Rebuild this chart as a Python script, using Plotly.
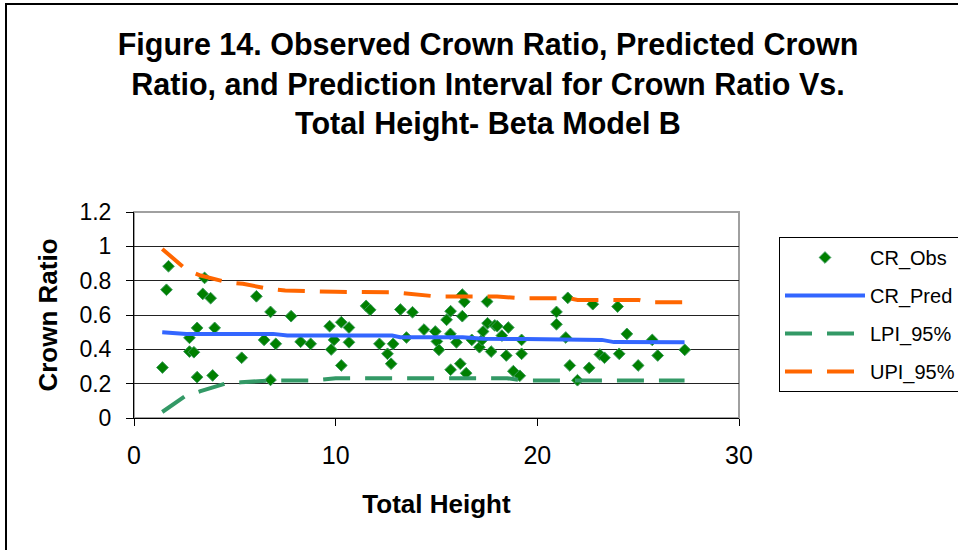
import plotly.graph_objects as go

# ---- data ----
obs_x = [1.71, 1.61, 3.50, 3.41, 3.80, 3.13, 4.00, 2.75, 2.75, 2.97, 1.41, 3.13, 3.90,
         5.34, 6.07, 6.77, 6.45, 7.03, 6.77, 7.79, 8.26, 8.76, 9.70, 9.92, 9.78,
         10.28, 10.66, 10.66, 10.28, 11.51, 11.71, 12.17, 12.57, 12.75, 12.85, 13.21,
         13.81, 13.51, 14.38, 14.94, 15.02, 15.12, 15.70, 15.50, 15.69, 15.99, 15.70,
         16.18, 16.47, 16.28, 16.38, 16.28, 16.75, 17.13, 17.26, 17.31, 17.53, 17.51,
         17.71, 17.89, 18.01, 18.24, 18.56, 18.46, 18.81, 19.13, 19.22, 19.22,
         21.51, 20.95, 20.95, 21.41, 21.61, 21.99, 22.57, 22.75, 23.10, 23.33, 23.98,
         24.06, 24.44, 25.00, 25.70, 25.97, 27.31]
obs_y = [0.884, 0.747, 0.816, 0.723, 0.698, 0.525, 0.525, 0.467, 0.387, 0.383, 0.294, 0.238, 0.248,
         0.351, 0.709, 0.618, 0.455, 0.432, 0.222, 0.593, 0.444, 0.432, 0.535, 0.455, 0.399,
         0.558, 0.527, 0.441, 0.306, 0.653, 0.630, 0.432, 0.374, 0.316, 0.432, 0.632,
         0.616, 0.469, 0.515, 0.504, 0.446, 0.397, 0.622, 0.572, 0.490, 0.441, 0.281,
         0.316, 0.261, 0.719, 0.677, 0.593, 0.455, 0.412, 0.455, 0.504, 0.552, 0.678,
         0.387, 0.539, 0.535, 0.480, 0.527, 0.364, 0.273, 0.246, 0.455, 0.374,
         0.700, 0.618, 0.546, 0.469, 0.306, 0.220, 0.292, 0.663, 0.370, 0.351, 0.649,
         0.374, 0.490, 0.306, 0.455, 0.364, 0.397]

pred_x = [1.4, 1.7, 2.6, 6.9, 7.6, 12.8, 13.2, 16.3, 17.3, 19.4, 23.2, 23.8, 27.3]
pred_y = [0.500, 0.497, 0.490, 0.490, 0.480, 0.480, 0.471, 0.471, 0.462, 0.460, 0.455, 0.442, 0.441]

lpi_x = [1.4, 2.5, 3.3, 4.6, 5.3, 6.7, 8.8, 10.0, 18.5, 19.3, 27.3]
lpi_y = [0.035, 0.125, 0.156, 0.203, 0.208, 0.218, 0.218, 0.232, 0.232, 0.218, 0.218]

upi_x = [1.4, 2.6, 3.3, 4.6, 5.4, 6.7, 7.5, 10.0, 12.9, 13.8, 15.0, 18.0, 19.2, 21.5, 22.0, 25.0, 25.6, 27.3]
upi_y = [0.985, 0.863, 0.830, 0.791, 0.782, 0.752, 0.743, 0.735, 0.733, 0.723, 0.708, 0.708, 0.698, 0.698, 0.688, 0.688, 0.674, 0.674]

x_ticks = [0, 10, 20, 30]
y_ticks = [0, 0.2, 0.4, 0.6, 0.8, 1.0, 1.2]

title_text = ("Figure 14. Observed Crown Ratio, Predicted Crown<br>"
              "Ratio, and Prediction Interval for Crown Ratio Vs.<br>"
              "Total Height- Beta Model B")

FONT = "Liberation Sans, Arial, sans-serif"
W, H = 958, 550
L, R, T, B = 134, 219, 212, 132
PW, PH = W - L - R, H - T - B

def px2paper_x(px):
    return (px - L) / PW

def px2paper_y(py):
    return (H - B - py) / PH

DASH = "27px,15px"

fig = go.Figure()
fig.add_trace(go.Scatter(
    x=obs_x, y=obs_y, mode="markers", name="CR_Obs", legendgroup="a",
    marker=dict(symbol="diamond", size=9, color="#008000",
                line=dict(color="#3A9A5A", width=1)),
))
fig.add_trace(go.Scatter(
    x=pred_x, y=pred_y, mode="lines", name="CR_Pred", legendgroup="b",
    line=dict(color="#3366FF", width=4),
))
fig.add_trace(go.Scatter(
    x=lpi_x, y=lpi_y, mode="lines", name="LPI_95%", legendgroup="c",
    line=dict(color="#339966", width=4, dash=DASH),
))
fig.add_trace(go.Scatter(
    x=upi_x, y=upi_y, mode="lines", name="UPI_95%", legendgroup="d",
    line=dict(color="#FF6600", width=4, dash=DASH),
))

fig.update_layout(
    width=W, height=H,
    margin=dict(l=L, r=R, t=T, b=B, pad=0, autoexpand=False),
    paper_bgcolor="white", plot_bgcolor="white",
    font=dict(family=FONT, color="black"),
    title=dict(text=title_text, x=488 / W, xref="container",
               xanchor="center", y=1 - 55 / H, yref="container", yanchor="middle",
               font=dict(family=FONT, size=30.5, color="black", weight="bold")),
    showlegend=True,
    legend=dict(
        x=px2paper_x(779), y=px2paper_y(237), xanchor="left", yanchor="top",
        bgcolor="white", bordercolor="black", borderwidth=1,
        font=dict(family=FONT, size=20, color="black"),
        tracegroupgap=9, itemwidth=80,
    ),
    xaxis=dict(
        range=[0, 30], tickvals=x_ticks, showgrid=False, zeroline=False,
        showline=True, linecolor="black", linewidth=1,
        ticks="outside", ticklen=7, tickcolor="black", tickwidth=1,
        ticklabelstandoff=8,
        tickfont=dict(family=FONT, size=25, color="black"),
        title=dict(text="<b>Total Height</b>", standoff=26,
                   font=dict(family=FONT, size=26, color="black")),
    ),
    yaxis=dict(
        range=[0, 1.2], tickvals=y_ticks, showgrid=True, gridcolor="#222222", gridwidth=1,
        zeroline=False, showline=True, linecolor="black", linewidth=1,
        ticks="outside", ticklen=7, tickcolor="black", tickwidth=1,
        ticklabelstandoff=10,
        tickfont=dict(family=FONT, size=23, color="black"),
        title=dict(text="<b>Crown Ratio</b>", standoff=14,
                   font=dict(family=FONT, size=26, color="black")),
    ),
    shapes=[
        # plot-area frame (grey, top/right visible)
        dict(type="rect", xref="paper", yref="paper", x0=0, y0=0, x1=1, y1=1,
             line=dict(color="#A0A0A0", width=2), layer="below"),
        # chart border
        dict(type="rect", xref="paper", yref="paper",
             x0=px2paper_x(6), y0=px2paper_y(560), x1=px2paper_x(970), y1=px2paper_y(4),
             line=dict(color="black", width=2), layer="above"),
    ],
)

fig.write_html("out.html")
